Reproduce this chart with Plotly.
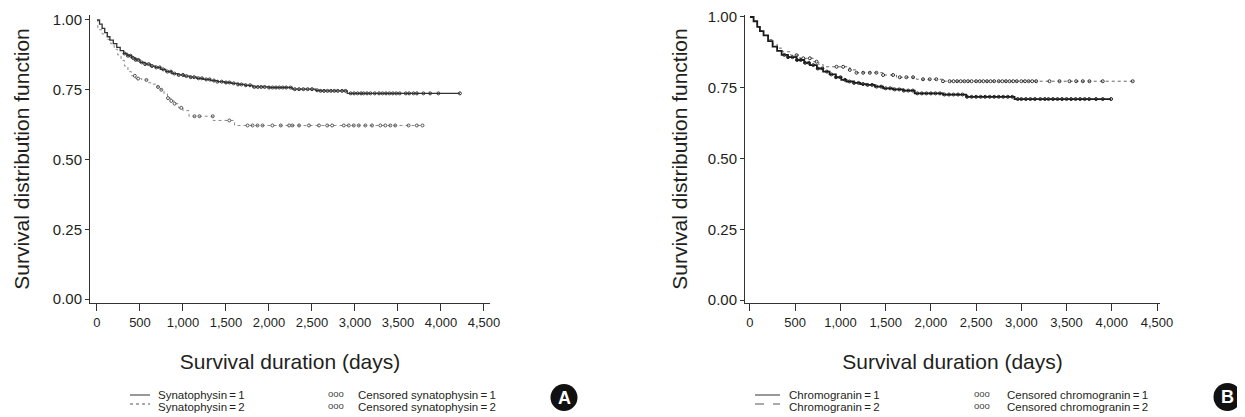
import numpy as np
import plotly.graph_objects as go

W, H = 1245, 417
OFF = 8  # page body margin of the browser

# ---------------- Panel A: Synatophysin ----------------
syn1_time = [0, 30, 60, 90, 120, 150, 190, 230, 270, 310, 350, 400, 450, 500, 560, 620, 680, 740,
             800, 870, 940, 1010, 1080, 1160, 1240, 1320, 1400, 1480, 1560, 1640, 1720, 1810,
             2000, 2270, 2540, 2600, 2910]
syn1_surv = [1.0, 0.985, 0.97, 0.955, 0.94, 0.928, 0.915, 0.902, 0.89, 0.88, 0.872, 0.864, 0.857,
             0.848, 0.842, 0.835, 0.83, 0.823, 0.815, 0.808, 0.803, 0.799, 0.795, 0.791, 0.787,
             0.783, 0.779, 0.776, 0.773, 0.769, 0.766, 0.76, 0.758, 0.752, 0.748, 0.746, 0.737]
syn1_end = 4220
syn1_censored = [320, 360, 390, 420, 450, 480, 520, 560, 600, 640, 690, 730, 770, 820, 860, 900,
                 950, 1000, 1040, 1090, 1130, 1180, 1220, 1270, 1310, 1360, 1400, 1450, 1500,
                 1540, 1590, 1640, 1680, 1730, 1780, 1830, 1870, 1910, 1950, 2000, 2040, 2080,
                 2120, 2160, 2200, 2250, 2300, 2350, 2400, 2450, 2500, 2560, 2600, 2640, 2680,
                 2720, 2760, 2800, 2850, 2890, 2950, 2990, 3030, 3070, 3100, 3140, 3180, 3230,
                 3280, 3320, 3360, 3400, 3440, 3480, 3520, 3590, 3630, 3680, 3720, 3796, 3874,
                 3970, 4220]

syn2_time = [0, 10, 60, 120, 160, 200, 240, 280, 320, 360, 400, 450, 520, 600, 650, 700, 740,
             780, 820, 860, 900, 950, 1000, 1070, 1350, 1600]
syn2_surv = [1.0, 0.965, 0.95, 0.93, 0.915, 0.895, 0.875, 0.855, 0.835, 0.815, 0.8, 0.79, 0.785,
             0.775, 0.77, 0.76, 0.75, 0.735, 0.72, 0.71, 0.7, 0.685, 0.675, 0.655, 0.64, 0.622]
syn2_end = 3800
syn2_censored = [440, 478, 575, 710, 748, 826, 864, 903, 980, 1134, 1192, 1346, 1539, 1751, 1809,
                 1867, 1925, 2040, 2137, 2234, 2272, 2350, 2465, 2581, 2677, 2735, 2870, 2928,
                 2986, 3044, 3121, 3198, 3295, 3353, 3411, 3468, 3623, 3719, 3785]

# ---------------- Panel B: Chromogranin ----------------
chr1_time = [0, 40, 80, 110, 150, 200, 250, 300, 350, 420, 515, 600, 662, 740, 809, 880, 950,
             1010, 1067, 1150, 1220, 1288, 1380, 1472, 1580, 1693, 1821, 2134, 2391, 2925]
chr1_surv = [1.0, 0.985, 0.965, 0.95, 0.935, 0.915, 0.895, 0.88, 0.866, 0.858, 0.848, 0.838,
             0.83, 0.818, 0.807, 0.797, 0.787, 0.778, 0.772, 0.767, 0.763, 0.76, 0.754, 0.748,
             0.744, 0.74, 0.73, 0.726, 0.718, 0.71]
chr1_end = 3993
chr1_censored = [380, 420, 470, 520, 560, 610, 650, 700, 750, 800, 850, 900, 950, 1000, 1050,
                 1100, 1150, 1200, 1250, 1300, 1350, 1400, 1450, 1500, 1550, 1600, 1650, 1700,
                 1750, 1800, 1850, 1900, 1950, 2000, 2050, 2100, 2150, 2200, 2250, 2300, 2350,
                 2400, 2450, 2500, 2550, 2600, 2650, 2700, 2750, 2800, 2850, 2900, 2960, 3000,
                 3050, 3100, 3150, 3210, 3260, 3300, 3350, 3400, 3450, 3500, 3550, 3600, 3650,
                 3700, 3750, 3826, 3900, 3992]

chr2_time = [0, 40, 80, 110, 150, 200, 250, 300, 360, 450, 552, 699, 760, 809, 1104, 1178,
             1472, 1619, 1840, 2134]
chr2_surv = [1.0, 0.985, 0.965, 0.95, 0.935, 0.92, 0.905, 0.89, 0.877, 0.865, 0.854, 0.842,
             0.832, 0.824, 0.813, 0.803, 0.795, 0.787, 0.78, 0.773]
chr2_end = 4231
chr2_censored = [515, 589, 662, 736, 957, 1030, 1104, 1178, 1251, 1325, 1398, 1472, 1582, 1656,
                 1729, 1803, 1913, 1987, 2060, 2134, 2207, 2250, 2290, 2330, 2370, 2410, 2450,
                 2500, 2540, 2580, 2620, 2660, 2700, 2750, 2790, 2830, 2870, 2910, 2950, 3000,
                 3040, 3080, 3120, 3164, 3311, 3422, 3532, 3606, 3679, 3753, 3900, 4231]

x_tickvals = [0, 500, 1000, 1500, 2000, 2500, 3000, 3500, 4000, 4500]
x_ticktext = ["0", "500", "1,000", "1,500", "2,000", "2,500", "3,000", "3,500", "4,000", "4,500"]
y_tickvals = [0.0, 0.25, 0.5, 0.75, 1.0]

legend_A = ["Synatophysin\u2009=\u20091", "Synatophysin\u2009=\u20092",
            "Censored synatophysin\u2009=\u20091", "Censored synatophysin\u2009=\u20092"]
legend_B = ["Chromogranin\u2009=\u20091", "Chromogranin\u2009=\u20092",
            "Censored chromogranin\u2009=\u20091", "Censored chromogranin\u2009=\u20092"]

FONT = "Liberation Sans, Arial, sans-serif"
TXT = "#231f20"


def km_value(times, survs, t):
    times = np.asarray(times)
    survs = np.asarray(survs)
    idx = np.searchsorted(times, np.asarray(t), side="right") - 1
    return survs[idx]


fig = go.Figure()


def add_curve(times, survs, end, cens, xa, ya, dash, width, color, mcolor):
    fig.add_trace(go.Scatter(
        x=list(times) + [end], y=list(survs) + [survs[-1]],
        mode="lines", line=dict(shape="hv", dash=dash, width=width, color=color),
        xaxis=xa, yaxis=ya, showlegend=False, hoverinfo="skip"))
    fig.add_trace(go.Scatter(
        x=cens, y=km_value(times, survs, cens), mode="markers",
        marker=dict(symbol="circle-open", size=3, color=mcolor, line=dict(width=1, color=mcolor)),
        xaxis=xa, yaxis=ya, showlegend=False, hoverinfo="skip"))


add_curve(syn2_time, syn2_surv, syn2_end, syn2_censored, "x", "y", "dot", 1.0, "#8a8a8a", "#555555")
add_curve(syn1_time, syn1_surv, syn1_end, syn1_censored, "x", "y", "solid", 1.3, "#333333", "#333333")
add_curve(chr2_time, chr2_surv, chr2_end, chr2_censored, "x2", "y2", "dot", 1.0, "#666666", "#333333")
add_curve(chr1_time, chr1_surv, chr1_end, chr1_censored, "x2", "y2", "solid", 1.8, "#1a1a1a", "#222222")


def fx(x):
    return (x - OFF) / W


def fy(y):
    return 1 - (y - OFF) / H


ydom = [fy(303), fy(15)]
axis_common = dict(showline=True, linecolor="#333333", linewidth=1, ticks="outside",
                   tickcolor="#333333", showgrid=False, zeroline=False, automargin=False,
                   tickfont=dict(family=FONT, size=13, color=TXT))
ytick_font = dict(family=FONT, size=15, color=TXT)
title_font = dict(family=FONT, size=21, color=TXT)

fig.update_layout(
    template="none",
    width=W, height=H, margin=dict(l=0, r=0, t=0, b=0, pad=0), autosize=False,
    paper_bgcolor="white", plot_bgcolor="white", showlegend=False,
    xaxis=dict(domain=[fx(90), fx(490)], range=[-81, 4570], tickvals=x_tickvals,
               ticktext=x_ticktext, ticklen=7, anchor="y",
               title=dict(text="Survival duration (days)", standoff=25, font=title_font),
               **axis_common),
    yaxis=dict(domain=ydom, range=[-0.0143, 1.0179], tickvals=y_tickvals, tickformat=".2f",
               ticklen=4, anchor="x",
               title=dict(text="Survival distribution function", standoff=17, font=title_font),
               **{**axis_common, "tickfont": ytick_font}),
    xaxis2=dict(domain=[fx(745), fx(1160)], range=[-55, 4533], tickvals=x_tickvals,
                ticktext=x_ticktext, ticklen=7, anchor="y2",
                title=dict(text="Survival duration (days)", standoff=25, font=title_font),
                **axis_common),
    yaxis2=dict(domain=ydom, range=[-0.0106, 1.007], tickvals=y_tickvals, tickformat=".2f",
                ticklen=4, anchor="x2",
                title=dict(text="Survival distribution function", standoff=14, font=title_font),
                **{**axis_common, "tickfont": ytick_font}),
)


def legend_block(labels, line_x0, line_x1, text_x, circ_x, ctext_x, dash2):
    rows = [395, 407]
    fig.add_shape(type="line", xref="paper", yref="paper", x0=fx(line_x0), x1=fx(line_x1),
                  y0=fy(rows[0]), y1=fy(rows[0]), line=dict(color="#333333", width=1))
    fig.add_shape(type="line", xref="paper", yref="paper", x0=fx(line_x0), x1=fx(line_x1),
                  y0=fy(rows[1] - 3), y1=fy(rows[1] - 3), line=dict(color="#555555", width=1, dash=dash2))
    for i, r in enumerate(rows):
        fig.add_annotation(x=fx(text_x), y=fy(r), xref="paper", yref="paper", xanchor="left",
                           yanchor="middle", showarrow=False, text=labels[i],
                           font=dict(family=FONT, size=11.5, color=TXT))
        fig.add_annotation(x=fx(ctext_x), y=fy(r), xref="paper", yref="paper", xanchor="left",
                           yanchor="middle", showarrow=False, text=labels[i + 2],
                           font=dict(family=FONT, size=11.5, color=TXT))
    fig.add_annotation(x=fx(circ_x), y=fy(399), xref="paper", yref="paper", xanchor="left",
                       yanchor="middle", showarrow=False, text="ooo<br>ooo", borderpad=0,
                       font=dict(family=FONT, size=9.5, color="#444444"))


legend_block(legend_A, 130, 150, 156, 327, 356, "dot")
legend_block(legend_B, 755, 780, 787, 973, 1005, "dash")


def badge(cx, cy, r, letter):
    fig.add_shape(type="circle", xref="paper", yref="paper", x0=fx(cx - r), x1=fx(cx + r),
                  y0=fy(cy + r), y1=fy(cy - r), fillcolor="#111111", line=dict(color="#111111", width=0))
    fig.add_annotation(x=fx(cx), y=fy(cy), xref="paper", yref="paper", xanchor="center",
                       yanchor="middle", showarrow=False,
                       text="<b>%s</b>" % letter, font=dict(family=FONT, size=18, color="white"))


badge(564, 397.5, 13.5, "A")
badge(1227.5, 397, 14, "B")

fig.write_html("out.html")
